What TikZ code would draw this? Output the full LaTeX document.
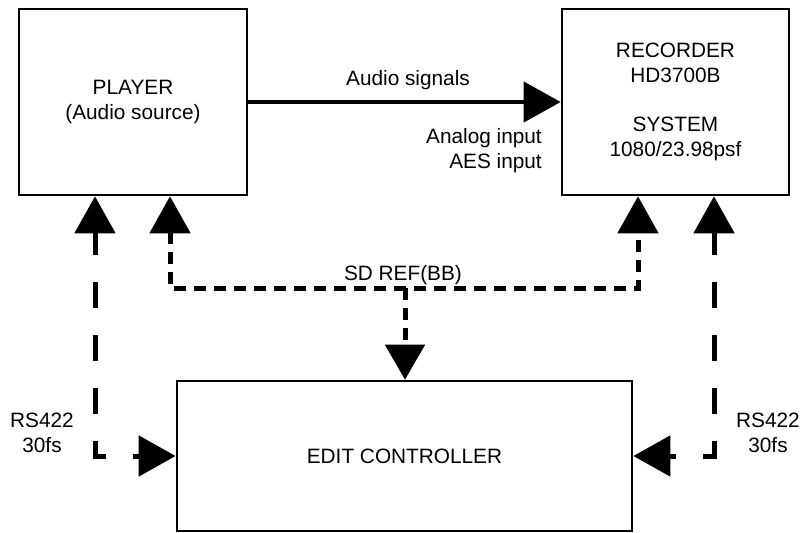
\documentclass[tikz,border=0pt]{standalone}
\usepackage{fontspec}
\setmainfont{Liberation Sans}
\usetikzlibrary{arrows.meta}
\begin{document}
\begin{tikzpicture}[x=1pt,y=-1pt,
  box/.style={draw, line width=2.6pt, inner sep=0pt, align=center, font=\fontsize{20.8}{25}\selectfont},
  lbl/.style={inner sep=0pt, font=\fontsize{20.8}{25}\selectfont},
  tip/.style={-{Triangle[width=40pt,length=37pt]}},
  bothtip/.style={{Triangle[width=40pt,length=37pt]}-{Triangle[width=40pt,length=37pt]}},
  rsline/.style={line width=5pt, dash pattern=on 26pt off 27pt, dash phase=3pt},
  refline/.style={line width=5pt, dash pattern=on 12pt off 8pt},
]
\useasboundingbox (0,0) rectangle (801,533);
\node[box, minimum width=228pt, minimum height=186pt] (player) at (133,102) {PLAYER\\(Audio source)};
\node[box, minimum width=227pt, minimum height=186pt] (recorder) at (675.5,102) {RECORDER\\HD3700B\\[24pt]SYSTEM\\1080/23.98psf};
\node[box, minimum width=455pt, minimum height=150pt] (edit) at (404.5,456) {EDIT CONTROLLER};

\draw[line width=4.5pt, tip] (player.east) -- (recorder.west);

\node[lbl, anchor=base] (audio) at (408,85) {Audio signals};
\node[lbl, anchor=north east, align=right] (inputs) at (542,128) {Analog input\\AES input};
\node[lbl, anchor=base] (sdref) at (403,280) {SD REF(BB)};
\node[lbl, anchor=north, align=center] (rsl) at (42,413) {RS422\\30fs};
\node[lbl, anchor=north, align=center] (rsr) at (768,413) {RS422\\30fs};

\coordinate (refL) at (170,288);
\coordinate (refR) at (638,288);
\coordinate (refM) at (405,288);
\coordinate (rsL) at (95,456);
\coordinate (rsR) at (714,456);

\draw[refline, bothtip] (player.south -| refL) -- (refL) -- (refR) -- (recorder.south -| refR);
\draw[refline, -{Triangle[width=39pt,length=35pt]}] (refM) -- (edit.north -| refM);
\draw[rsline, bothtip] (player.south -| rsL) -- (rsL) -- (edit.west);
\draw[rsline, bothtip] (recorder.south -| rsR) -- (rsR) -- (edit.east);
\end{tikzpicture}
\end{document}
